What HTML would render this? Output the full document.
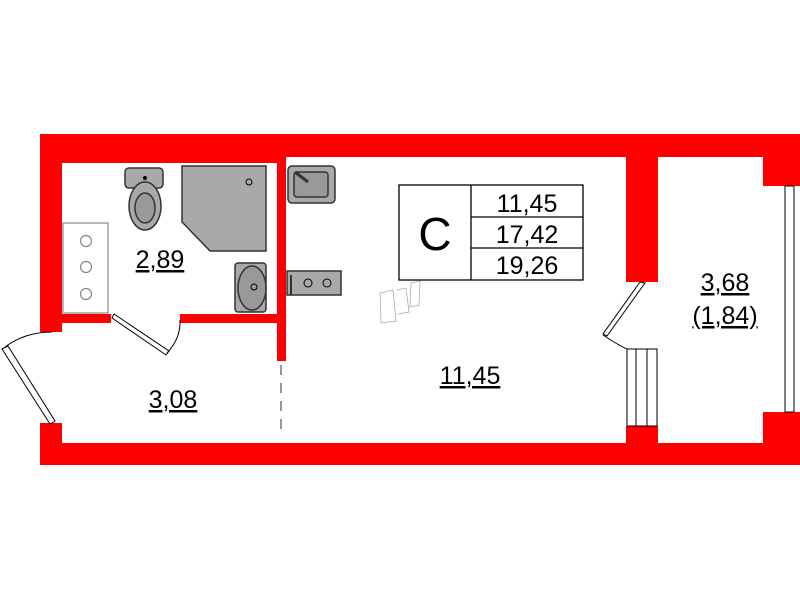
<!DOCTYPE html>
<html><head><meta charset="utf-8"><style>html,body{margin:0;padding:0;background:#fff}svg{display:block}</style></head>
<body>
<svg width="800" height="600" viewBox="0 0 800 600" xmlns="http://www.w3.org/2000/svg" font-family="Liberation Sans, sans-serif">
<rect width="800" height="600" fill="#fff"/>
<g fill="#ff0000">
<rect x="40" y="134" width="760" height="23"/>
<rect x="40" y="134" width="237" height="29"/>
<rect x="40" y="134" width="22" height="198"/>
<rect x="62" y="314" width="49" height="9"/>
<rect x="180" y="314" width="106" height="9"/>
<rect x="277" y="134" width="9" height="227"/>
<rect x="40" y="423" width="22" height="42"/>
<rect x="40" y="443" width="760" height="22"/>
<rect x="626" y="134" width="32" height="148"/>
<rect x="626" y="426" width="32" height="39"/>
<rect x="763" y="134" width="37" height="52"/>
<rect x="763" y="412" width="37" height="53"/>
</g>
<line x1="281" y1="365" x2="281" y2="437" stroke="#777" stroke-width="1.5" stroke-dasharray="10,8"/>
<rect x="785" y="186" width="9" height="226" fill="#fff" stroke="#000" stroke-width="1"/>
<g stroke="#000" stroke-width="1" fill="none">
<rect x="627" y="349" width="30" height="77"/>
<line x1="636" y1="349" x2="636" y2="426"/><line x1="647" y1="349" x2="647" y2="426"/>
<polygon points="640,282 645,283 607,336 603,334" fill="#fff"/>
<path d="M603,335 Q618,345 627,349"/>
<polygon points="2,349 8,346 55,421 50,424" fill="#fff"/>
<path d="M5,347 Q25,332 52,332"/>
<polygon points="112,318 114,314 169,351 166,355" fill="#fff"/>
<path d="M167,353 Q181,338 180,320"/>
</g>
<rect x="63" y="223" width="45" height="90" fill="#fff" stroke="#888" stroke-width="1.2"/>
<g fill="none" stroke="#888" stroke-width="1.2"><circle cx="86" cy="241" r="5.5"/><circle cx="86" cy="267" r="5.5"/><circle cx="86" cy="294" r="5.5"/></g>
<g fill="#a9a9a9" stroke="#333" stroke-width="1.5">
<rect x="125" y="168" width="38" height="20" rx="4"/>
<ellipse cx="145" cy="206" rx="16" ry="24"/>
<ellipse cx="145" cy="208" rx="10" ry="15" fill="#999"/>
<polygon points="182,166 266,166 266,251 210,251 182,222"/>
<rect x="235" y="263" width="31" height="49" rx="3"/>
<ellipse cx="252" cy="288" rx="14" ry="22" fill="#999"/>
<rect x="288" y="166" width="47" height="37" rx="4"/>
<rect x="294" y="172" width="34" height="25" rx="3" fill="#999"/>
<rect x="287" y="271" width="54" height="24"/>
</g>
<circle cx="145" cy="178" r="2" fill="#000"/>
<g fill="none" stroke="#000" stroke-width="1"><circle cx="249" cy="182" r="3"/><circle cx="254" cy="287" r="3"/><circle cx="308" cy="283" r="4"/><circle cx="327" cy="283" r="4"/></g>
<line x1="291" y1="275" x2="291" y2="295" stroke="#333" stroke-width="2"/>
<path d="M295,172 L308,182" stroke="#333" stroke-width="3"/>
<g fill="none" stroke="#aaa" stroke-width="0.8"><path d="M380,293 L393,290 L396,321 L381,323 Z"/><path d="M397,290 L406,288 L409,312 L398,314"/><path d="M411,283 L420,281 L419,305 L410,307 Z"/></g>
<g fill="none" stroke="#000" stroke-width="1.3">
<rect x="399" y="185" width="184" height="95"/>
<line x1="471" y1="185" x2="471" y2="280"/>
<line x1="471" y1="217" x2="583" y2="217"/>
<line x1="471" y1="248" x2="583" y2="248"/>
</g>
<text x="435" y="250" font-size="46" text-anchor="middle">C</text>
<g font-size="25" text-anchor="middle">
<text x="527" y="212">11,45</text>
<text x="527" y="243">17,42</text>
<text x="527" y="274">19,26</text>
</g>
<g font-size="25" text-anchor="middle" text-decoration="underline">
<text x="160" y="268">2,89</text>
<text x="173" y="408">3,08</text>
<text x="470" y="384">11,45</text>
<text x="725" y="291">3,68</text>
<text x="725" y="324">(1,84)</text>
</g>
</svg>
</body></html>
